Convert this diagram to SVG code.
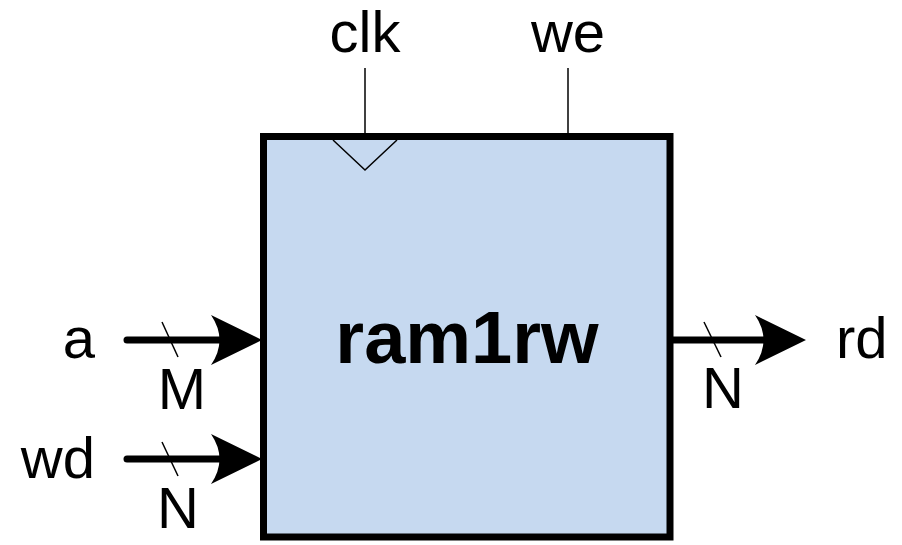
<svg xmlns="http://www.w3.org/2000/svg" width="902" height="545" viewBox="0 0 902 545">
<style>
  .lbl { font-family: "Liberation Sans", Arial, sans-serif; font-size: 58px; fill: #000; }
  .title { font-family: "Liberation Sans", Arial, sans-serif; font-size: 74px; font-weight: bold; fill: #000; }
  .bus { stroke: #000; stroke-width: 7; stroke-linecap: round; fill: none; }
  .thin { stroke: #000; stroke-width: 1.5; fill: none; }
  .head { fill: #000; stroke: none; }
</style>
<rect width="902" height="545" fill="#fff"/>
<g id="ram1rw">
  <rect x="263.5" y="136.5" width="406.5" height="400.5" fill="#c6d9f0" stroke="#000" stroke-width="7"/>
  <polyline class="thin" points="333,140 365,170 397,140"/>
  <text class="title" x="467" y="363" text-anchor="middle">ram1rw</text>
</g>
<g id="connectors">
  <line class="thin" x1="365" y1="68" x2="365" y2="134"/>
  <line class="thin" x1="568" y1="68" x2="568" y2="134"/>
  <line class="bus" x1="127" y1="340" x2="230" y2="340"/>
  <path class="head" d="M262,340 L211,315 Q228,340 211,365 Z"/>
  <line class="thin" x1="162" y1="322" x2="178" y2="357"/>
  <line class="bus" x1="127" y1="459" x2="230" y2="459"/>
  <path class="head" d="M262,459 L211,434 Q228,459 211,484 Z"/>
  <line class="thin" x1="162" y1="442" x2="178" y2="476"/>
  <line class="bus" x1="670" y1="340" x2="775" y2="340" style="stroke-linecap:butt"/>
  <path class="head" d="M806,340 L755,315 Q772,340 755,365 Z"/>
  <line class="thin" x1="704" y1="322" x2="721" y2="357"/>
</g>
<g id="labels">
  <text class="lbl" x="365" y="52" text-anchor="middle">clk</text>
  <text class="lbl" x="568" y="52" text-anchor="middle">we</text>
  <text class="lbl" x="95" y="358" text-anchor="end">a</text>
  <text class="lbl" x="182" y="409" text-anchor="middle">M</text>
  <text class="lbl" x="95" y="478" text-anchor="end">wd</text>
  <text class="lbl" x="178" y="528" text-anchor="middle">N</text>
  <text class="lbl" x="836" y="358">rd</text>
  <text class="lbl" x="723" y="408" text-anchor="middle">N</text>
</g>
</svg>
